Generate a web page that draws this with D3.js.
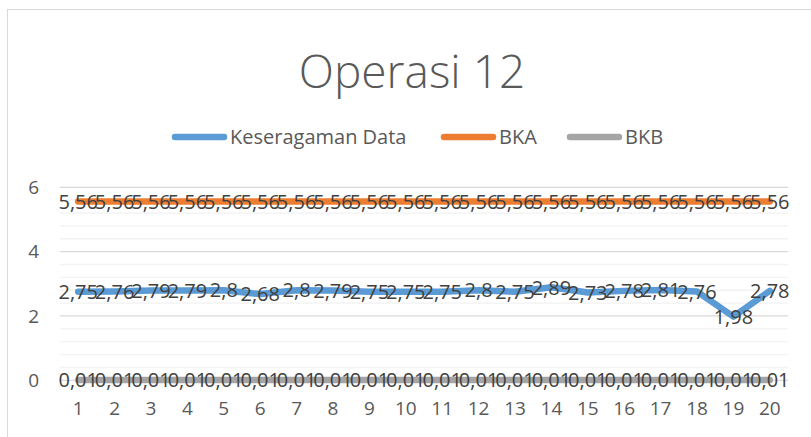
<!DOCTYPE html>
<html>
<head>
<meta charset="utf-8">
<script src="https://cdn.jsdelivr.net/npm/d3@7"></script>
<style>
  body { margin: 0; background: #fff; }
  text { font-family: "Open Sans", "Noto Sans", sans-serif; }
</style>
</head>
<body>
<div id="chart"></div>
<script>
// chart values
var categories = ["1","2","3","4","5","6","7","8","9","10","11","12","13","14","15","16","17","18","19","20"];
var keseragaman = [2.75,2.76,2.79,2.79,2.8,2.68,2.8,2.79,2.75,2.75,2.75,2.8,2.75,2.89,2.73,2.78,2.81,2.76,1.98,2.78];
var bka = [5.56,5.56,5.56,5.56,5.56,5.56,5.56,5.56,5.56,5.56,5.56,5.56,5.56,5.56,5.56,5.56,5.56,5.56,5.56,5.56];
var bkb = [0.01,0.01,0.01,0.01,0.01,0.01,0.01,0.01,0.01,0.01,0.01,0.01,0.01,0.01,0.01,0.01,0.01,0.01,0.01,0.01];
var seriesNames = ["Keseragaman Data","BKA","BKB"];
var yTicks = [0,2,4,6];
var title = "Operasi 12";

var colors = ["#5b9bd5","#ed7d31","#a5a5a5"];
var series = [keseragaman, bka, bkb];

var width = 811, height = 437;

var svg = d3.select("#chart")
  .append("svg")
    .attr("width", width)
    .attr("height", height);

// chart border
svg.append("rect")
  .attr("x", 7.5).attr("y", 9.5)
  .attr("width", 820).attr("height", 450)
  .style("fill", "none")
  .style("stroke", "#d9d9d9");

var x = d3.scaleBand()
  .domain(categories)
  .range([60, 788]);

var y = d3.scaleLinear()
  .domain([0, 6])
  .range([380.3, 187.3]);

// minor gridlines
svg.append("g")
  .selectAll("line")
  .data(d3.range(0, 6.01, 0.4).filter(function(d){ return Math.abs(d/2 - Math.round(d/2)) > 1e-6; }))
  .enter().append("line")
    .attr("x1", 60).attr("x2", 788)
    .attr("y1", function(d){ return y(d); })
    .attr("y2", function(d){ return y(d); })
    .style("stroke", "#f2f2f2")
    .style("stroke-width", 1.3);

// major gridlines
svg.append("g")
  .selectAll("line")
  .data(yTicks)
  .enter().append("line")
    .attr("x1", 60).attr("x2", 788)
    .attr("y1", function(d){ return y(d); })
    .attr("y2", function(d){ return y(d); })
    .style("stroke", "#d9d9d9")
    .style("stroke-width", 1.3);

// y axis labels
var yAxis = svg.append("g")
  .attr("transform", "translate(39,0)")
  .call(d3.axisLeft(y).tickValues(yTicks).tickFormat(d3.format("d")).tickSize(0).tickPadding(0));
yAxis.select(".domain").remove();
yAxis.selectAll("text")
  .style("font-size", "19px")
  .style("fill", "#595959")
  .style("font-family", "Open Sans, sans-serif");

// x axis labels
var xAxis = svg.append("g")
  .attr("transform", "translate(0,401)")
  .call(d3.axisBottom(x).tickSize(0).tickPadding(0));
xAxis.select(".domain").remove();
xAxis.selectAll("text")
  .style("font-size", "19px")
  .style("fill", "#595959")
  .style("font-family", "Open Sans, sans-serif");

var line = d3.line()
  .x(function(d, i){ return x(categories[i]) + x.bandwidth()/2; })
  .y(function(d){ return y(d); });

series.forEach(function(s, k){
  svg.append("path")
    .datum(s)
    .attr("d", line)
    .style("fill", "none")
    .style("stroke", colors[k])
    .style("stroke-width", 6.5)
    .style("stroke-linecap", "round")
    .style("stroke-linejoin", "round");
});

// data labels, centred on the points
series.forEach(function(s){
  svg.append("g")
    .selectAll("text")
    .data(s)
    .enter().append("text")
      .attr("x", function(d, i){ return x(categories[i]) + x.bandwidth()/2; })
      .attr("y", function(d){ return y(d); })
      .attr("dy", "0.36em")
      .attr("text-anchor", "middle")
      .style("font-size", "20px")
      .style("fill", "#404040")
      .text(function(d){ return String(d).replace(".", ","); });
});

// title
svg.append("text")
  .attr("x", 412)
  .attr("y", 88)
  .attr("text-anchor", "middle")
  .style("font-size", "46px")
  .style("font-weight", 300)
  .style("fill", "#595959")
  .text(title);

// legend
var legendX = [172, 441, 567];
var legend = svg.append("g");
seriesNames.forEach(function(name, k){
  var g = legend.append("g")
    .attr("transform", "translate(" + legendX[k] + ",137)");
  g.append("line")
    .attr("x1", 3).attr("x2", 52)
    .style("stroke", colors[k])
    .style("stroke-width", 6.5)
    .style("stroke-linecap", "round");
  g.append("text")
    .attr("x", 58)
    .attr("dy", "0.35em")
    .style("font-size", "20px")
    .style("fill", "#595959")
    .text(name);
});
</script>
</body>
</html>
